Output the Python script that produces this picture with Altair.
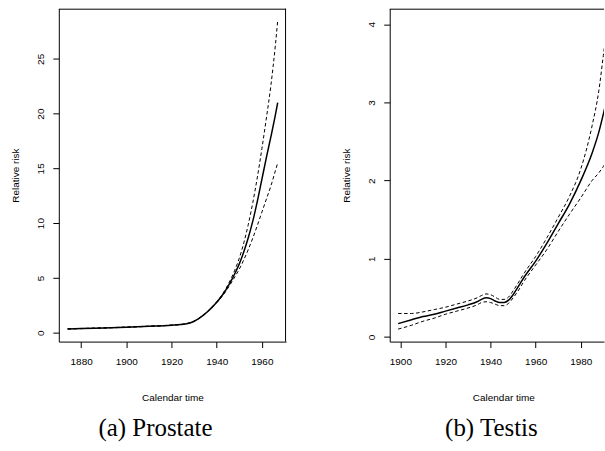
import altair as alt
import pandas as pd

# ---------------- data ----------------
prostate_years = [1874, 1880, 1890, 1900, 1910, 1920, 1924, 1926, 1928, 1930,
                  1932, 1934, 1936, 1938, 1940, 1942, 1944, 1946, 1948, 1950,
                  1952, 1954, 1956, 1958, 1960, 1962, 1964, 1966, 1967]
prostate_fit = [0.34, 0.37, 0.43, 0.50, 0.58, 0.68, 0.74, 0.79, 0.88, 1.04,
                1.28, 1.58, 1.93, 2.33, 2.78, 3.28, 3.88, 4.58, 5.38, 6.28,
                7.38, 8.68, 10.2, 12.0, 14.0, 16.0, 17.9, 19.9, 21.0]
prostate_hi = [0.35, 0.38, 0.44, 0.51, 0.59, 0.69, 0.75, 0.80, 0.89, 1.05,
               1.29, 1.60, 1.95, 2.36, 2.83, 3.36, 4.00, 4.78, 5.70, 6.80,
               8.20, 9.90, 11.9, 14.2, 16.8, 19.6, 22.6, 26.3, 28.5]
prostate_lo = [0.33, 0.36, 0.42, 0.49, 0.57, 0.67, 0.73, 0.78, 0.87, 1.03,
               1.27, 1.56, 1.91, 2.30, 2.73, 3.20, 3.76, 4.40, 5.08, 5.80,
               6.65, 7.60, 8.65, 9.80, 11.0, 12.2, 13.4, 14.8, 15.5]

testis_years = [1899, 1905, 1910, 1915, 1920, 1925, 1930, 1934, 1936, 1938,
                1940, 1942, 1944, 1946, 1948, 1950, 1952, 1955, 1960, 1965,
                1970, 1975, 1980, 1985, 1988, 1990, 1992]
testis_fit = [0.17, 0.22, 0.26, 0.29, 0.33, 0.37, 0.41, 0.45, 0.48, 0.50,
              0.49, 0.46, 0.44, 0.44, 0.47, 0.54, 0.63, 0.77, 0.97, 1.20,
              1.45, 1.70, 2.00, 2.35, 2.62, 2.85, 3.10]
testis_hi = [0.30, 0.30, 0.32, 0.35, 0.38, 0.42, 0.46, 0.50, 0.53, 0.55,
             0.54, 0.51, 0.48, 0.48, 0.51, 0.59, 0.68, 0.82, 1.03, 1.27,
             1.53, 1.80, 2.15, 2.70, 3.15, 3.60, 4.05]
testis_lo = [0.10, 0.15, 0.20, 0.24, 0.29, 0.33, 0.37, 0.41, 0.44, 0.45,
             0.44, 0.42, 0.40, 0.40, 0.43, 0.50, 0.58, 0.72, 0.92, 1.12,
             1.35, 1.57, 1.78, 2.00, 2.10, 2.18, 2.27]

prostate_xticks = [1880, 1900, 1920, 1940, 1960]
prostate_yticks = [0, 5, 10, 15, 20, 25]
testis_xticks = [1900, 1920, 1940, 1960, 1980]
testis_yticks = [0, 1, 2, 3, 4]
captions = ["(a) Prostate", "(b) Testis"]
x_title = "Calendar time"
y_title = "Relative risk"

SANS = "Liberation Sans"
H = 334


def panel(years, fit, lo, hi, xdom, ydom, xticks, yticks, width, caption,
          cap_x, right_border):
    df = pd.DataFrame({"year": years, "fit": fit, "lo": lo, "hi": hi})
    xaxis = alt.Axis(values=xticks, format="d", title=x_title, grid=False,
                     domain=True, domainColor="black", domainWidth=1,
                     ticks=True, tickColor="black", tickSize=6, tickWidth=1,
                     labelFont=SANS, labelFontSize=10, labelColor="black",
                     labelPadding=9, labelFlush=False,
                     titleFont=SANS, titleFontSize=10, titleFontWeight="normal",
                     titleColor="black", titlePadding=26, titleX=114)
    yaxis = alt.Axis(values=yticks, format="d", title=y_title, grid=False,
                     domain=True, domainColor="black", domainWidth=1,
                     ticks=True, tickColor="black", tickSize=6, tickWidth=1,
                     labelFont=SANS, labelFontSize=10, labelColor="black",
                     labelAngle=270, labelAlign="center", labelBaseline="bottom",
                     labelPadding=7, labelFlush=False,
                     titleFont=SANS, titleFontSize=10, titleFontWeight="normal",
                     titleColor="black", titlePadding=15)
    xs = alt.Scale(domain=xdom, nice=False, zero=False)
    ys = alt.Scale(domain=ydom, nice=False, zero=False)
    base = alt.Chart(df)
    solid = base.mark_line(color="black", strokeWidth=1.5, clip=True,
                           interpolate="monotone").encode(
        x=alt.X("year:Q", scale=xs, axis=xaxis),
        y=alt.Y("fit:Q", scale=ys, axis=yaxis))
    upper = base.mark_line(color="black", strokeWidth=1.0, clip=True,
                           strokeDash=[3.5, 2.5], interpolate="monotone").encode(
        x=alt.X("year:Q", scale=xs), y=alt.Y("hi:Q", scale=ys))
    lower = base.mark_line(color="black", strokeWidth=1.0, clip=True,
                           strokeDash=[3.5, 2.5], interpolate="monotone").encode(
        x=alt.X("year:Q", scale=xs), y=alt.Y("lo:Q", scale=ys))
    one = pd.DataFrame({"caption": [caption]})
    top = alt.Chart(one).mark_rule(color="black", strokeWidth=1).encode(
        x=alt.value(0), x2=alt.value(width), y=alt.value(0.5))
    layers = [solid, upper, lower, top]
    if right_border:
        rb = alt.Chart(one).mark_rule(color="black", strokeWidth=1).encode(
            x=alt.value(width - 0.5), y=alt.value(0), y2=alt.value(H))
        layers.append(rb)
    cap = alt.Chart(one).mark_text(font="Liberation Serif", fontSize=25,
                                   align="center", baseline="middle",
                                   color="black").encode(
        x=alt.value(cap_x), y=alt.value(421), text="caption:N")
    layers.append(cap)
    return alt.layer(*layers).properties(width=width, height=H)


left = panel(prostate_years, prostate_fit, prostate_lo, prostate_hi,
             [1870.1, 1970.7], [-0.82, 29.58], prostate_xticks, prostate_yticks,
             228, captions[0], 97, True)
right = panel(testis_years, testis_fit, testis_lo, testis_hi,
              [1895.27, 1990.3], [-0.06, 4.2], testis_xticks, testis_yticks,
              215, captions[1], 102, False)

chart = alt.hconcat(left, right, spacing=104, bounds="flush").properties(
    padding={"left": 10, "top": 7, "right": 0, "bottom": 0},
    background="white",
).configure_view(stroke="transparent")

chart.save("out.html", embed_options={"renderer": "svg", "actions": False})
